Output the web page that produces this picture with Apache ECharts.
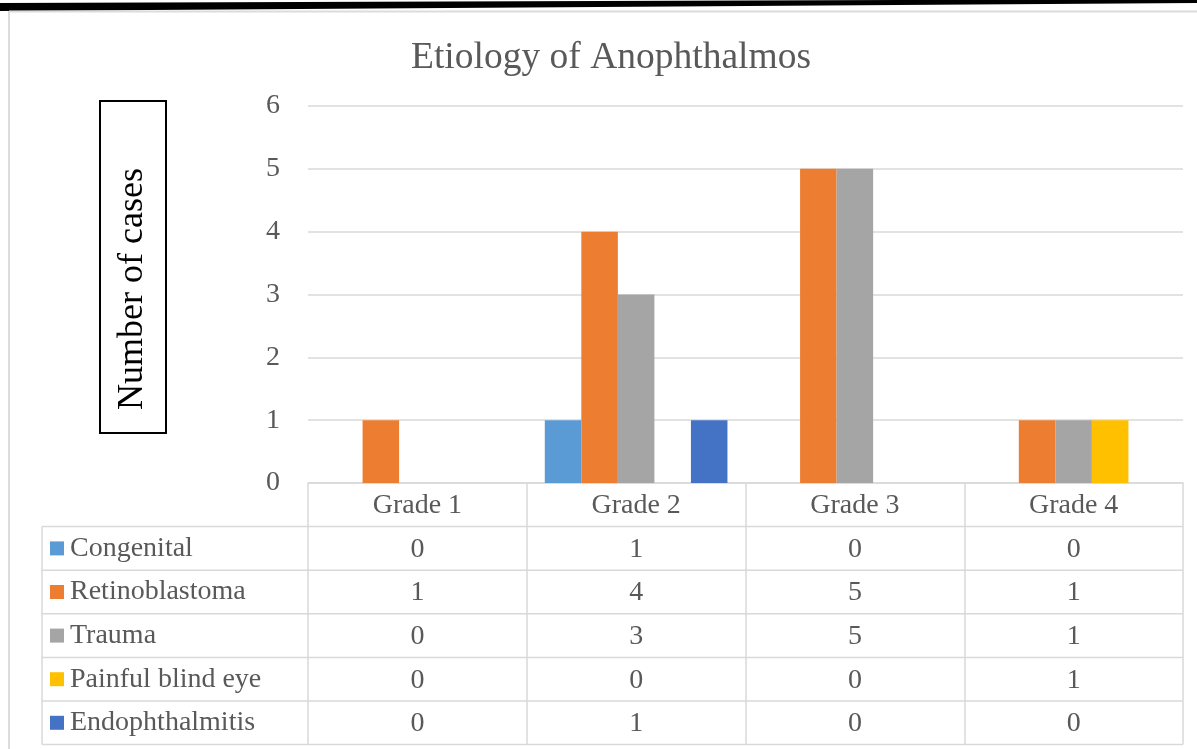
<!DOCTYPE html>
<html>
<head>
<meta charset="utf-8">
<script src="https://cdn.jsdelivr.net/npm/echarts@6/dist/echarts.min.js"></script>
<style>
  html, body { margin: 0; padding: 0; background: #fff; }
  #main { width: 1197px; height: 749px; }
</style>
</head>
<body>
<div id="main"></div>
<script>
// data
var categories = ['Grade 1', 'Grade 2', 'Grade 3', 'Grade 4'];
var seriesNames = ['Congenital', 'Retinoblastoma', 'Trauma', 'Painful blind eye', 'Endophthalmitis'];
var congenital = [0, 1, 0, 0];
var retinoblastoma = [1, 4, 5, 1];
var trauma = [0, 3, 5, 1];
var painfulBlindEye = [0, 0, 0, 1];
var endophthalmitis = [0, 1, 0, 0];
var yTicks = [0, 1, 2, 3, 4, 5, 6];

var values = [congenital, retinoblastoma, trauma, painfulBlindEye, endophthalmitis];
var colors = ['#5B9BD5', '#ED7D31', '#A5A5A5', '#FFC000', '#4472C4'];
var font = '"Liberation Serif", "Times New Roman", serif';
var textColor = '#595959';
var lineColor = '#d9d9d9';

var plotLeft = 308, plotRight = 1183, plotTop = 106, plotBottom = 483;
var rowH = 43.6;
var tableLeft = 42;

var series = [];
for (var i = 0; i < seriesNames.length; i++) {
    series.push({
        name: seriesNames[i],
        type: 'bar',
        data: values[i],
        barGap: 0,
        barCategoryGap: '16.5%',
        itemStyle: { color: colors[i] },
        animation: false
    });
}

var graphic = [];
// page frame
graphic.push({ type: 'polygon', shape: { points: [[0, 3], [1197, -1], [1197, 3], [0, 11]] }, style: { fill: '#000' } });
graphic.push({ type: 'line', shape: { x1: 9, y1: 11.5, x2: 1197, y2: 11.5 }, style: { stroke: '#dcdcdc', lineWidth: 2 } });
graphic.push({ type: 'line', shape: { x1: 9, y1: 11, x2: 9, y2: 749 }, style: { stroke: '#dcdcdc', lineWidth: 2 } });

// data table: row lines and left column
for (var r = 0; r <= seriesNames.length; r++) {
    var y = plotBottom + rowH * (r + 1);
    graphic.push({ type: 'line', shape: { x1: tableLeft, y1: y, x2: plotRight, y2: y }, style: { stroke: lineColor, lineWidth: 1.5 } });
}
graphic.push({ type: 'line', shape: { x1: tableLeft, y1: plotBottom + rowH, x2: tableLeft, y2: plotBottom + rowH * 6 }, style: { stroke: lineColor, lineWidth: 1.5 } });
for (var k = 0; k < seriesNames.length; k++) {
    var cy = plotBottom + rowH * (k + 1.5);
    graphic.push({ type: 'rect', shape: { x: 50, y: cy - 7, width: 14, height: 14 }, style: { fill: colors[k] } });
    graphic.push({ type: 'text', x: 70, y: cy, style: { text: seriesNames[k], font: '28px ' + font, fill: textColor, verticalAlign: 'middle', align: 'left' } });
}

// y axis title box
graphic.push({
    type: 'group', x: 133, y: 267, rotation: Math.PI / 2,
    children: [
        { type: 'rect', shape: { x: -166, y: -33, width: 332, height: 66 }, style: { fill: 'none', stroke: '#000', lineWidth: 2 } },
        { type: 'text', x: -22, y: 0, style: { text: 'Number of cases', font: '36px ' + font, fill: '#000', align: 'center', verticalAlign: 'middle' } }
    ]
});

var myChart = echarts.init(document.getElementById('main'));
var option = {
    animation: false,
    title: {
        text: 'Etiology of Anophthalmos',
        left: 406,
        top: 34,
        textStyle: { fontFamily: font, fontSize: 37.5, fontWeight: 'normal', color: textColor }
    },
    grid: { left: plotLeft, right: 1197 - plotRight, top: plotTop, bottom: 749 - plotBottom },
    xAxis: {
        type: 'category',
        data: categories,
        axisLine: { lineStyle: { color: lineColor, width: 1.5 } },
        axisTick: { show: true, inside: false, length: rowH * 6, lineStyle: { color: lineColor, width: 1.5 } },
        axisLabel: {
            margin: 1,
            fontFamily: font,
            fontSize: 28,
            color: textColor,
            lineHeight: rowH,
            verticalAlign: 'top',
            formatter: function (v, idx) {
                var lines = [v];
                for (var s = 0; s < values.length; s++) lines.push(values[s][idx]);
                return lines.join('\n');
            }
        }
    },
    yAxis: {
        type: 'value',
        min: yTicks[0],
        max: yTicks[yTicks.length - 1],
        interval: 1,
        axisLine: { show: false },
        axisTick: { show: false },
        axisLabel: { margin: 28, fontFamily: font, fontSize: 28, color: textColor },
        splitLine: { lineStyle: { color: lineColor, width: 1.5 } }
    },
    graphic: graphic,
    series: series
};
myChart.setOption(option);
</script>
</body>
</html>
